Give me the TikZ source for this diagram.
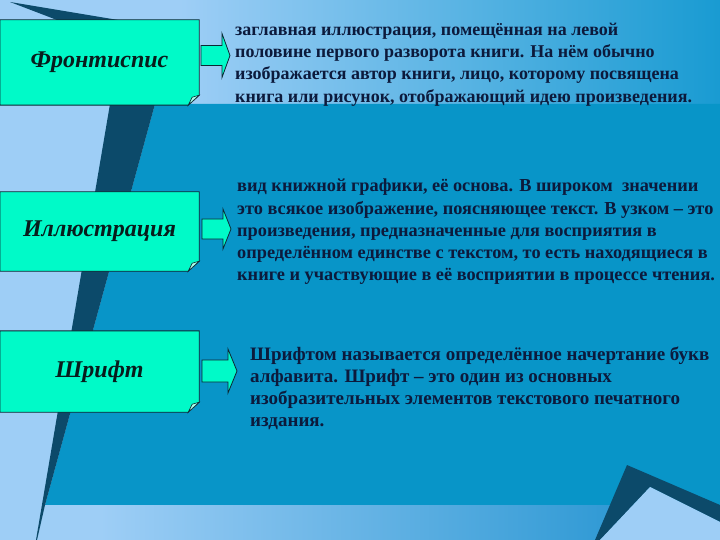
\documentclass[tikz,border=0pt]{standalone}
\usepackage{fontspec}
\setmainfont{Liberation Serif}
\usetikzlibrary{calc}
\pgfdeclarelayer{bg}
\pgfdeclarelayer{mid}
\pgfsetlayers{bg,mid,main}
\definecolor{lightbg}{RGB}{158,206,246}
\definecolor{midbg}{RGB}{8,149,200}
\definecolor{topend}{RGB}{25,155,210}
\definecolor{botend}{RGB}{40,150,210}
\definecolor{shadowc}{RGB}{12,74,106}
\definecolor{boxc}{RGB}{0,250,200}
\definecolor{foldc}{RGB}{170,255,235}
\definecolor{edgec}{RGB}{12,40,52}
\definecolor{txtc}{RGB}{12,26,60}
\definecolor{labc}{RGB}{8,28,28}
\tikzset{
  card/.style={inner sep=0pt, minimum width=199pt, font=\fontsize{24}{28}\selectfont\bfseries\itshape, text=labc},
  cardline/.style={draw=edgec, line width=0.9pt, fill=boxc},
  foldline/.style={draw=edgec, line width=0.6pt, fill=foldc},
  blockarr/.style={draw=edgec, line width=0.8pt, fill=boxc},
  desc/.style={inner sep=0pt, anchor=north west, align=left, text=txtc}
}
\begin{document}
\begin{tikzpicture}[x=1pt,y=-1pt]
\useasboundingbox (0,0) rectangle (720,540);
\begin{pgfonlayer}{bg}
\fill[lightbg] (0,0) rectangle (720,540);
\shade[left color=lightbg, right color=topend] (180,0) rectangle (720,104);
\fill[midbg] (155,104) -- (720,104) -- (720,505) -- (45,505) -- cycle;
\fill[lightbg] (0,505) rectangle (100,540);
\shade[left color=lightbg, right color=botend] (100,505) rectangle (650,540);
\fill[botend] (650,505) rectangle (720,540);
\fill[shadowc] (10,2) -- (118,20) -- (57,20) -- cycle;
\fill[shadowc] (110,104) -- (155,104) -- (45,505) -- (37,540) -- (36,540) -- cycle;
\fill[shadowc] (627,465) -- (720,505) -- (720,522) -- (650,487) -- (600,540) -- (595,540) -- cycle;
\fill[lightbg] (650,487) -- (720,522) -- (720,540) -- (600,540) -- cycle;
\end{pgfonlayer}

% cards
\node[card, minimum height=85pt] (b1) at (99.5,62.5) {Фронтиспис};
\node[card, minimum height=79pt] (b2) at (99.5,231.5) {Иллюстрация};
\node[card, minimum height=81pt] (b3) at (99.5,371.5) {Шрифт};
\begin{pgfonlayer}{mid}
\foreach \b in {b1,b2,b3}{
  \path[cardline] (\b.north west) -- (\b.north east) -- ([yshift=10pt]\b.south east)
     -- ([xshift=-11pt]\b.south east) -- (\b.south west) -- cycle;
  \path[foldline] ([yshift=10pt]\b.south east) -- ([xshift=-11pt]\b.south east)
     -- ([xshift=-7pt,yshift=8pt]\b.south east) -- cycle;
}
\end{pgfonlayer}

% descriptions
\node[desc, font=\fontsize{18}{22.2}\selectfont\bfseries] (t1) at (235,23) {заглавная иллюстрация, помещённая на левой\\
половине первого разворота книги. На нём обычно\\
изображается автор книги, лицо, которому посвящена\\
книга или рисунок, отображающий идею произведения.};
\node[desc, font=\fontsize{18.3}{22.2}\selectfont\bfseries] (t2) at (237,179) {вид книжной графики, её основа. В широком \ значении\\
это всякое изображение, поясняющее текст. В узком -- это\\
произведения, предназначенные для восприятия в\\
определённом единстве с текстом, то есть находящиеся в\\
книге и участвующие в её восприятии в процессе чтения.};
\node[desc, font=\fontsize{19}{22.2}\selectfont\bfseries] (t3) at (250,346.5) {Шрифтом называется определённое начертание букв\\
алфавита. Шрифт -- это один из основных\\
изобразительных элементов текстового печатного\\
издания.};

% block arrows
\coordinate (a1) at (201,55.5);
\coordinate (a2) at (202,229);
\coordinate (a3) at (202,371);
\path[blockarr] ($(a1)+(0,-10)$) -- ++(21,0) -- ++(0,-12) -- ++(8,22) -- ++(-8,22) -- ++(0,-12) -- ++(-21,0) -- cycle;
\path[blockarr] ($(a2)+(0,-10)$) -- ++(21,0) -- ++(0,-10) -- ++(8,20) -- ++(-8,20) -- ++(0,-10) -- ++(-21,0) -- cycle;
\path[blockarr] ($(a3)+(0,-11)$) -- ++(26,0) -- ++(0,-11) -- ++(9,22) -- ++(-9,22) -- ++(0,-11) -- ++(-26,0) -- cycle;
\end{tikzpicture}
\end{document}
